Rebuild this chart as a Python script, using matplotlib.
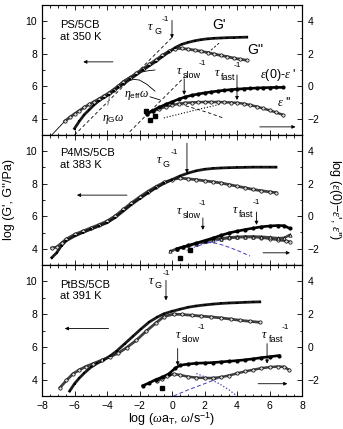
import matplotlib
matplotlib.use('Agg')
import matplotlib.pyplot as plt
from matplotlib.ticker import MultipleLocator

plt.rcParams['font.family'] = ['Liberation Sans', 'DejaVu Sans']
plt.rcParams['mathtext.fontset'] = 'custom'
plt.rcParams['mathtext.rm'] = 'Liberation Sans'
plt.rcParams['mathtext.it'] = 'Liberation Serif:italic'
plt.rcParams['mathtext.bf'] = 'Liberation Sans:bold'

# ---------------- Panel 1: PS/5CB at 350 K ----------------
p1_gp_x = [-6.0,-5.7,-5.4,-5.1,-4.8,-4.5,-4.2,-3.9,-3.6,-3.3,-3.0,-2.6,-2.2,-1.8,-1.4,-1.0,-0.6,-0.2,0.2,0.6,1.0,1.4,1.8,2.2,2.6,3.0,3.4,3.8,4.2,4.6]
p1_gp_y = [3.40,3.85,4.25,4.55,4.85,5.10,5.30,5.47,5.70,5.93,6.13,6.42,6.70,6.98,7.26,7.52,7.82,8.10,8.38,8.58,8.70,8.80,8.87,8.92,8.95,8.97,8.99,9.00,9.01,9.02]
p1_gpp_x = [-6.6,-6.3,-6.0,-5.7,-5.4,-5.1,-4.8,-4.5,-4.2,-3.9,-3.6,-3.3,-3.0,-2.6,-2.2,-1.8,-1.4,-1.0,-0.6,-0.2,0.2,0.6,1.0,1.4,1.8,2.2,2.6,3.0,3.4,3.8,4.2,4.6]
p1_gpp_y = [3.85,4.08,4.30,4.50,4.70,4.88,5.05,5.22,5.40,5.58,5.80,6.02,6.24,6.52,6.80,7.07,7.35,7.62,7.90,8.15,8.32,8.33,8.28,8.22,8.15,8.07,7.98,7.90,7.82,7.73,7.66,7.60]
p1_fit_x = [-7.4, -6.6]
p1_fit_y = [3.0, 3.85]
p1_m1_x = [-3.5,-3.0,-2.5,-2.0,-1.5,-1.05]
p1_m1_y = [5.90,6.35,6.65,6.85,6.95,7.00]
p1_m2_x = [-3.3,-2.95,-2.6,-2.3,-2.0,-1.55,-1.05]
p1_m2_y = [5.95,6.25,6.38,6.42,6.38,6.12,5.70]
p1_etaG_x = [-6.0, 0.0]
p1_etaG_y = [3.0, 9.0]
p1_slope_x = [2.2, 2.95]
p1_slope_y = [8.05, 8.70]
# dielectric (right axis)
p1_e_x = [-1.55,-1.2,-0.8,-0.4,0.0,0.4,0.8,1.2,1.6,2.0,2.4,2.8,3.2,3.6,4.0,4.4,4.8,5.2,5.6,6.0,6.4,6.8]
p1_e1_y = [-1.70,-1.50,-1.30,-1.12,-0.96,-0.80,-0.66,-0.56,-0.48,-0.41,-0.35,-0.30,-0.25,-0.21,-0.18,-0.15,-0.13,-0.11,-0.09,-0.08,-0.07,-0.07]
p1_e2_y = [-1.70,-1.55,-1.40,-1.27,-1.17,-1.08,-1.02,-1.00,-0.98,-0.97,-0.97,-0.97,-0.98,-1.00,-1.02,-1.07,-1.15,-1.25,-1.36,-1.48,-1.61,-1.75]
p1_es_x = [-1.6,-1.35,-1.05]
p1_es_y = [-1.55,-2.05,-1.85]
p1_d1_x = [-2.6, 0.8]
p1_d1_y = [-2.8, 0.6]
p1_dot_x = [-0.5,0.5,1.5,2.3,3.0]
p1_dot_y = [-1.95,-1.70,-1.45,-1.27,-1.10]
p1_d2_x = [0.5,1.5,2.3,3.15]
p1_d2_y = [-1.10,-1.40,-1.65,-1.95]

# ---------------- Panel 2: P4MS/5CB at 383 K ----------------
p2_g_x = [-7.4,-7.1,-6.8,-6.5,-6.0,-5.5,-5.0,-4.5,-4.0,-3.5,-3.0,-2.5,-2.0,-1.5,-1.0,-0.5,0.0,0.5,1.0,1.5,2.0,2.5,3.0,3.5,4.0,4.5,5.0,5.5,6.0,6.4]
p2_gp_y = [3.45,3.75,4.20,4.50,4.78,5.00,5.20,5.40,5.60,5.92,6.32,6.72,7.08,7.42,7.74,8.02,8.25,8.48,8.66,8.80,8.89,8.94,8.97,8.99,9.00,9.01,9.02,9.02,9.02,9.02]
p2_gpp_y = [4.05,4.10,4.35,4.60,4.88,5.08,5.28,5.48,5.70,6.02,6.42,6.82,7.18,7.52,7.82,8.08,8.25,8.35,8.30,8.25,8.18,8.12,8.05,7.95,7.85,7.75,7.65,7.57,7.50,7.45]
p2_e1_x = [0.3,0.7,1.0,1.5,2.0,2.5,3.0,3.5,4.0,4.5,5.0,5.5,6.0,6.5,6.9,7.25]
p2_e1_y = [-2.00,-1.88,-1.80,-1.65,-1.50,-1.35,-1.18,-1.03,-0.92,-0.82,-0.73,-0.65,-0.60,-0.57,-0.58,-0.75]
p2_e2_x = [-0.1,0.3,0.7,1.0,1.5,2.0,2.5,3.0,3.5,4.0,4.5,5.0,5.5,6.0,6.5,6.9,7.25]
p2_e2_y = [-2.15,-2.00,-1.90,-1.80,-1.68,-1.55,-1.45,-1.37,-1.30,-1.27,-1.25,-1.25,-1.26,-1.30,-1.35,-1.33,-1.15]
p2_e3_x = [3.0,3.5,4.0,4.5,5.0,5.5,6.0,6.5,7.0,7.25]
p2_e3_y = [-1.40,-1.34,-1.30,-1.28,-1.28,-1.31,-1.38,-1.45,-1.52,-1.57]
p2_es_x = [0.5, 1.1]
p2_es_y = [-2.55, -2.05]
p2_b1_x = [-0.1,0.5,1.0,1.5,2.0,2.3,2.7,3.2,3.7,4.2,4.8]
p2_b1_y = [-2.20,-2.02,-1.88,-1.75,-1.65,-1.62,-1.66,-1.80,-1.98,-2.18,-2.45]
p2_b2_x = [0.9,1.4,1.9,2.4,2.9]
p2_b2_y = [-2.10,-1.90,-1.72,-1.58,-1.48]

# ---------------- Panel 3: PtBS/5CB at 391 K ----------------
p3_gp_x = [-6.3,-6.0,-5.7,-5.4,-5.0,-4.6,-4.2,-3.8,-3.4,-2.9,-2.4,-1.9,-1.4,-0.9,-0.5,0.0,0.5,1.0,1.5,2.0,2.5,3.0,3.5,4.0,4.5,5.0,5.4]
p3_gp_y = [3.30,3.75,4.10,4.40,4.75,5.00,5.20,5.45,5.75,6.20,6.65,7.10,7.52,7.82,8.02,8.17,8.30,8.42,8.50,8.56,8.61,8.65,8.68,8.70,8.72,8.74,8.75]
p3_gpp_x = [-6.9,-6.5,-6.1,-5.7,-5.3,-4.85,-4.3,-3.8,-3.3,-2.8,-2.2,-1.6,-1.0,-0.5,0.1,0.6,1.2,1.8,2.4,3.0,3.6,4.2,4.8,5.4]
p3_gpp_y = [3.50,3.95,4.35,4.60,4.80,4.98,5.20,5.40,5.62,5.95,6.40,6.95,7.45,7.85,8.00,7.98,7.93,7.88,7.83,7.77,7.70,7.62,7.56,7.50]
p3_e1_x = [-1.8,-1.4,-1.0,-0.6,-0.2,0.2,0.5,1.0,1.5,2.0,2.5,3.0,3.5,4.0,4.5,5.0,5.5,6.0,6.6]
p3_e1_y = [-2.37,-2.20,-2.00,-1.85,-1.65,-1.30,-1.12,-1.05,-1.00,-0.98,-0.96,-0.92,-0.88,-0.84,-0.79,-0.73,-0.66,-0.60,-0.53]
p3_e2_x = [-0.95,-0.6,-0.3,0.1,0.5,1.0,1.5,2.0,2.5,3.0,3.5,4.0,4.5,5.0,5.5,6.0,6.5,6.9,7.2]
p3_e2_y = [-2.06,-1.95,-1.80,-1.65,-1.72,-1.82,-1.88,-1.90,-1.90,-1.85,-1.75,-1.62,-1.50,-1.40,-1.30,-1.24,-1.20,-1.22,-1.40]
p3_es_x = [-0.6]
p3_es_y = [-2.5]
p3_b1_x = [0.1,1.0,2.0,2.95]
p3_b1_y = [-3.0,-2.62,-2.25,-1.88]
p3_b2_x = [1.5,2.2,2.9,3.5,4.0]
p3_b2_y = [-1.63,-1.90,-2.25,-2.62,-3.0]

BLUE = '#3a3acc'

fig = plt.figure(figsize=(3.43, 4.29), dpi=100)
L = 42/343
W = 260/343
panel_px = [(5, 130), (135, 130), (265, 131)]
axes = []
twins = []
for i, (top, h) in enumerate(panel_px):
    ax = fig.add_axes([L, 1 - (top + h)/429, W, h/429])
    ax.set_xlim(-8, 8)
    ax.set_ylim(3, 11)
    ax.set_yticks([4, 6, 8, 10])
    ax.set_xticks([-8, -6, -4, -2, 0, 2, 4, 6, 8])
    ax.xaxis.set_minor_locator(MultipleLocator(0.5))
    ax.yaxis.set_minor_locator(MultipleLocator(1))
    ax.tick_params(which='both', direction='in', top=True, right=False, labelsize=7.5, width=0.6)
    ax.tick_params(which='major', length=3.5)
    ax.tick_params(which='minor', length=1.8)
    if i < 2:
        ax.tick_params(labelbottom=False)
    tw = ax.twinx()
    tw.set_ylim(-3, 5)
    tw.set_yticks([-2, 0, 2, 4])
    tw.yaxis.set_minor_locator(MultipleLocator(1))
    tw.tick_params(which='both', direction='in', labelsize=7.5, width=0.6, pad=4)
    tw.tick_params(which='major', length=3.5)
    tw.tick_params(which='minor', length=1.8)
    for a in (ax, tw):
        for s in a.spines.values():
            s.set_linewidth(0.8)
    axes.append(ax)
    twins.append(tw)

def gp(ax, x, y):
    ax.plot(x, y, '-', color='0.1', lw=2.0, zorder=3)
    ax.plot(x, y, 's', ms=2.0, color='black', zorder=4, markeredgewidth=0)

def gpp(ax, x, y):
    ax.plot(x, y, '-', color='0.25', lw=2.0, zorder=3)
    ax.plot(x, y, 'o', ms=2.4, mfc='0.85', mec='black', mew=0.5, zorder=4)

def e_filled(ax, x, y):
    ax.plot(x, y, '-', color='black', lw=1.9, zorder=3)
    ax.plot(x, y, 'o', ms=2.0, color='black', zorder=4)

def e_open(ax, x, y, m='o'):
    ax.plot(x, y, '-', color='0.25', lw=1.8, zorder=3)
    ax.plot(x, y, m, ms=2.4, mfc='0.85', mec='black', mew=0.5, zorder=4)

def tau(ax, x, y, sub, supdx):
    ax.text(x, y, '\u03c4', fontsize=9, family='Liberation Serif', style='italic',
            ha='left', va='baseline')
    ax.annotate(sub, xy=(x, y), xytext=(4.5, -3), textcoords='offset points',
                fontsize=6.5, va='baseline')
    ax.annotate('-1', xy=(x, y), xytext=(supdx, 6.5), textcoords='offset points',
                fontsize=6, va='baseline')

def varrow(ax, x, y0, y1):
    ax.annotate('', xy=(x, y1), xytext=(x, y0),
                arrowprops=dict(arrowstyle='-|>', lw=0.6, color='black', mutation_scale=5,
                                shrinkA=0, shrinkB=0))

def harrow(ax, x0, x1, y):
    ax.annotate('', xy=(x1, y), xytext=(x0, y),
                arrowprops=dict(arrowstyle='-|>', lw=0.6, color='black', mutation_scale=5,
                                shrinkA=0, shrinkB=0))

# ---- Panel 1 ----
ax, tw = axes[0], twins[0]
ax.plot(p1_fit_x, p1_fit_y, '-', color='black', lw=0.6)
ax.plot(p1_m1_x, p1_m1_y, '-', color='black', lw=0.6)
ax.plot(p1_m2_x, p1_m2_y, '-', color='black', lw=0.6)
ax.plot(p1_etaG_x, p1_etaG_y, '--', color='black', lw=0.6, dashes=(4, 3))
ax.plot(p1_slope_x, p1_slope_y, '--', color='black', lw=0.6, dashes=(3, 2))
gpp(ax, p1_gpp_x, p1_gpp_y)
gp(ax, p1_gp_x, p1_gp_y)
tw.plot(p1_d1_x, p1_d1_y, '--', color='black', lw=0.6, dashes=(4, 3))
tw.plot(p1_dot_x, p1_dot_y, ':', color='black', lw=0.8)
tw.plot(p1_d2_x, p1_d2_y, '--', color='black', lw=0.6, dashes=(4, 3))
e_open(tw, p1_e_x, p1_e2_y)
e_filled(tw, p1_e_x, p1_e1_y)
tw.plot(p1_es_x, p1_es_y, 's', ms=2.2, color='black')
ax.text(-6.9, 9.75, 'PS/5CB', fontsize=8, va='center')
ax.text(-6.9, 9.0, 'at 350 K', fontsize=8, va='center')
ax.text(2.5, 9.75, "G'", fontsize=10, va='center')
ax.text(4.6, 8.22, "G''", fontsize=10, va='center')
ax.text(5.4, 6.7, r"$\varepsilon$(0)-$\varepsilon$ '", fontsize=9, va='center')
ax.text(6.45, 5.0, r"$\varepsilon$ ''", fontsize=9, va='center')
ax.text(-2.95, 5.47, r'$\eta_{\rm eff}\omega$', fontsize=8.5, va='center')
ax.text(-4.3, 4.0, r'$\eta_{\rm G}\omega$', fontsize=8.5, va='center')
ax.plot([-1.35, -0.74], [5.35, 5.16], '-', color='black', lw=0.6)
ax.plot([-3.95, -3.85], [4.85, 5.35], '-', color='0.55', lw=0.8)
tau(ax, -1.48, 9.45, 'G', 10)
tau(ax, 0.3, 6.75, 'slow', 16)
tau(ax, 2.6, 6.63, 'fast', 14)
varrow(ax, 0.0, 10.05, 8.95)
varrow(ax, 0.75, 6.45, 5.47)
varrow(ax, 4.0, 6.7, 5.15)
harrow(ax, -3.63, -5.46, 7.5)
harrow(ax, 5.4, 7.6, 3.5)

# ---- Panel 2 ----
ax, tw = axes[1], twins[1]
gpp(ax, p2_g_x, p2_gpp_y)
gp(ax, p2_g_x, p2_gp_y)
tw.plot(p2_b1_x, p2_b1_y, '--', color=BLUE, lw=0.7, dashes=(4, 2.5))
tw.plot(p2_b2_x, p2_b2_y, '-.', color=BLUE, lw=0.7)
e_open(tw, p2_e3_x, p2_e3_y)
e_open(tw, p2_e2_x, p2_e2_y, m='^')
e_filled(tw, p2_e1_x, p2_e1_y)
tw.plot(p2_es_x, p2_es_y, 's', ms=2.2, color='black')
ax.text(-6.9, 9.9, 'P4MS/5CB', fontsize=8, va='center')
ax.text(-6.9, 9.15, 'at 383 K', fontsize=8, va='center')
tau(ax, -0.95, 9.27, 'G', 10)
tau(ax, 0.3, 6.14, 'slow', 16)
tau(ax, 3.75, 6.2, 'fast', 14)
varrow(ax, 0.92, 10.5, 8.65)
varrow(ax, 1.9, 5.9, 5.16)
varrow(ax, 5.2, 6.26, 5.47)
harrow(ax, -2.77, -5.85, 7.3)
harrow(ax, 5.6, 7.26, 3.75)

# ---- Panel 3 ----
ax, tw = axes[2], twins[2]
gpp(ax, p3_gpp_x, p3_gpp_y)
gp(ax, p3_gp_x, p3_gp_y)
tw.plot(p3_b1_x, p3_b1_y, '--', color=BLUE, lw=0.7, dashes=(4, 2.5))
tw.plot(p3_b2_x, p3_b2_y, ':', color=BLUE, lw=0.9)
e_open(tw, p3_e2_x, p3_e2_y)
e_filled(tw, p3_e1_x, p3_e1_y)
tw.plot(p3_es_x, p3_es_y, 's', ms=2.2, color='black')
ax.text(-6.9, 9.8, 'PtBS/5CB', fontsize=8, va='center')
ax.text(-6.9, 9.1, 'at 391 K', fontsize=8, va='center')
tau(ax, -1.45, 9.85, 'G', 10)
tau(ax, 0.2, 6.57, 'slow', 16)
tau(ax, 5.55, 6.57, 'fast', 14)
varrow(ax, -0.37, 10.06, 8.84)
varrow(ax, 0.35, 5.9, 4.86)
varrow(ax, 5.85, 6.2, 4.98)
harrow(ax, -3.9, -6.6, 7.12)
harrow(ax, 5.3, 7.1, 3.75)

fig.text(0.025, 0.534, "log (G', G''/Pa)", rotation=90, fontsize=9, ha='center', va='center')
fig.text(0.977, 0.534, r"log ($\varepsilon$(0)$-\varepsilon$', $\varepsilon$'')", rotation=270,
         fontsize=9, ha='center', va='center')
fig.text(0.501, 0.022, r'log ($\omega$a$_{\rm T}$, $\omega$/s$^{-1}$)', fontsize=9,
         ha='center', va='center')

fig.savefig('out.png', dpi=100)
